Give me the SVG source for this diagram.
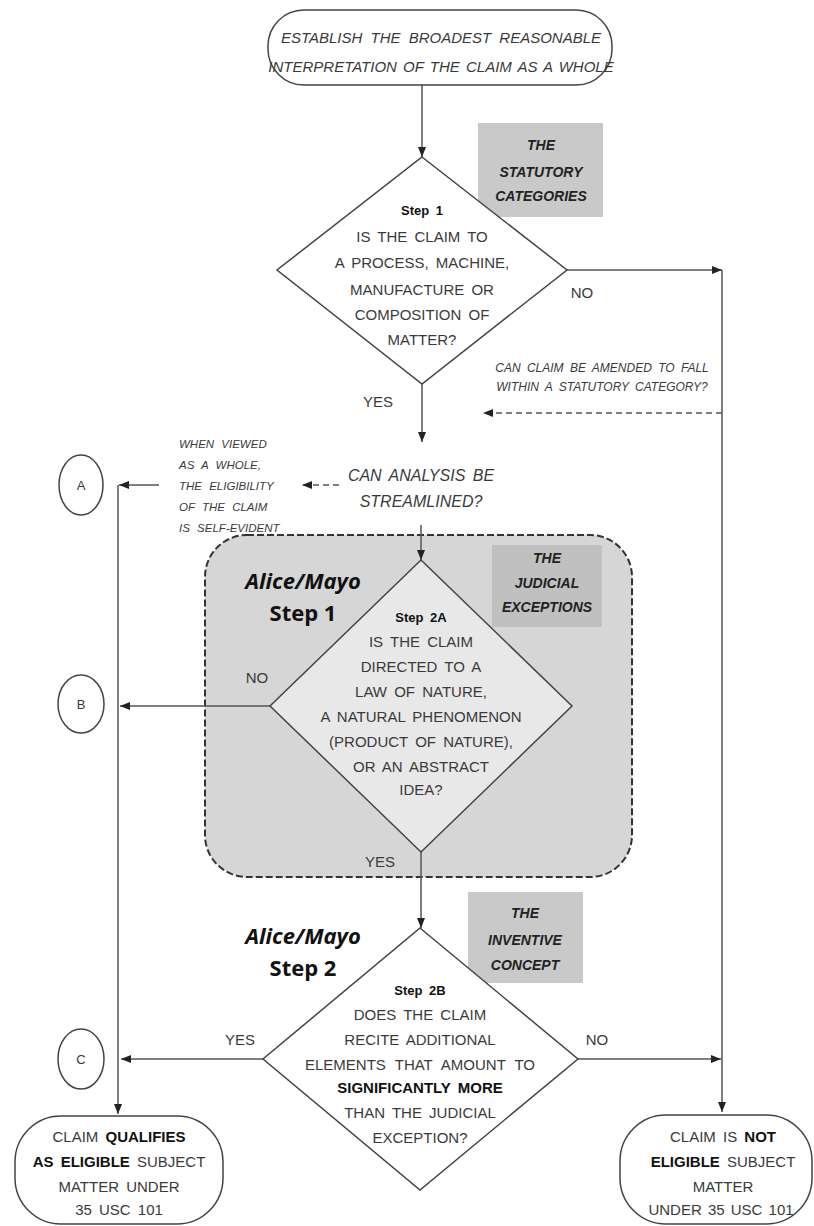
<svg xmlns="http://www.w3.org/2000/svg" width="814" height="1226" viewBox="0 0 814 1226">
<defs>
<style>
.t{font-family:"Liberation Sans",Arial,sans-serif;font-size:15px;fill:#3a3a3a;text-anchor:middle;word-spacing:3px}
.it{font-style:italic}
.sm{font-size:12px}
.xs{font-size:11.5px;text-anchor:start;word-spacing:4px}
.b{font-weight:bold;fill:#111}
.lab{font-family:"Liberation Sans",Arial,sans-serif;font-size:14px;font-weight:bold;font-style:italic;fill:#222;text-anchor:middle}
.am{font-family:"Open Sans","DejaVu Sans",sans-serif;font-size:22px;font-weight:bold;fill:#111;text-anchor:middle}
.shape{fill:#fff;stroke:#444;stroke-width:1.5}
.ln{fill:none;stroke:#555;stroke-width:1.5}
.dl{fill:none;stroke:#555;stroke-width:1.5;stroke-dasharray:6 4}
.gbox{fill:#c9c9c9;stroke:none}
</style>
<marker id="ah" viewBox="0 0 10 8" refX="10" refY="4" markerWidth="11" markerHeight="8" markerUnits="userSpaceOnUse" orient="auto">
<path d="M0,0 L10,4 L0,8 Z" fill="#222"/>
</marker>
</defs>
<rect width="814" height="1226" fill="#fff"/>

<g id="judicial-region">
<rect x="205" y="535" width="427" height="342" rx="42" ry="42" fill="#d6d6d6" stroke="#333" stroke-width="2" stroke-dasharray="7 3"/>
</g>

<g id="connectors">
<path class="ln" d="M422,85 V157" marker-end="url(#ah)"/>
<path class="ln" d="M567,270 H722" marker-end="url(#ah)"/>
<path class="ln" d="M722,270 V1112" marker-end="url(#ah)"/>
<path class="dl" d="M722,413 H483" marker-end="url(#ah)"/>
<path class="ln" d="M422,384 V442" marker-end="url(#ah)"/>
<path class="dl" d="M339,485 H302" marker-end="url(#ah)"/>
<path class="ln" d="M159,485 H119" marker-end="url(#ah)"/>
<path class="ln" d="M118,485 V1114" marker-end="url(#ah)"/>
<path class="ln" d="M421,525 V560" marker-end="url(#ah)"/>
<path class="ln" d="M270,706 H120" marker-end="url(#ah)"/>
<path class="ln" d="M421,852 V928" marker-end="url(#ah)"/>
<path class="ln" d="M263,1059 H121" marker-end="url(#ah)"/>
<path class="ln" d="M578,1059 H721" marker-end="url(#ah)"/>
</g>

<g id="start">
<rect class="shape" x="268" y="10" width="344" height="75" rx="36" ry="36"/>
<text class="t it" x="441" y="43" style="word-spacing:4px">ESTABLISH THE BROADEST REASONABLE</text>
<text class="t it" x="441" y="72" style="word-spacing:2px">INTERPRETATION OF THE CLAIM AS A WHOLE</text>
</g>

<g id="statutory-label">
<rect class="gbox" x="478" y="123" width="125" height="94"/>
<text class="lab" x="541" y="150">THE</text>
<text class="lab" x="541" y="177">STATUTORY</text>
<text class="lab" x="541" y="201">CATEGORIES</text>
</g>

<g id="step1">
<polygon class="shape" points="422,157 567,270 422,384 277,270"/>
<text class="t b" x="422" y="215" style="font-size:13px">Step 1</text>
<text class="t" x="422" y="242">IS THE CLAIM TO</text>
<text class="t" x="422" y="268">A PROCESS, MACHINE,</text>
<text class="t" x="422" y="295">MANUFACTURE OR</text>
<text class="t" x="422" y="320">COMPOSITION OF</text>
<text class="t" x="422" y="345">MATTER?</text>
</g>

<g id="labels-step1">
<text class="t" x="582" y="298">NO</text>
<text class="t" x="378" y="407">YES</text>
<text class="t it sm" x="602" y="372">CAN CLAIM BE AMENDED TO FALL</text>
<text class="t it sm" x="602" y="391">WITHIN A STATUTORY CATEGORY?</text>
</g>

<g id="streamline">
<text class="t it" x="421" y="481" style="font-size:16px">CAN ANALYSIS BE</text>
<text class="t it" x="421" y="507" style="font-size:16px">STREAMLINED?</text>
</g>

<g id="self-evident">
<text class="t it xs" x="179" y="448">WHEN VIEWED</text>
<text class="t it xs" x="179" y="469">AS A WHOLE,</text>
<text class="t it xs" x="179" y="490">THE ELIGIBILITY</text>
<text class="t it xs" x="179" y="511">OF THE CLAIM</text>
<text class="t it xs" x="179" y="532">IS SELF-EVIDENT</text>
</g>

<g id="connector-A">
<ellipse class="shape" cx="81" cy="485" rx="22" ry="30"/>
<text class="t" x="81" y="490" style="font-size:13px">A</text>
</g>

<g id="judicial-label">
<rect x="492" y="545" width="110" height="82" fill="#c0c0c0"/>
<text class="lab" x="547" y="563">THE</text>
<text class="lab" x="547" y="588">JUDICIAL</text>
<text class="lab" x="547" y="612">EXCEPTIONS</text>
</g>

<g id="alice-step1">
<text class="am" x="303" y="589" font-style="italic">Alice/Mayo</text>
<text class="am" x="303" y="621">Step 1</text>
</g>

<g id="step2a">
<polygon points="421,560 572,706 421,852 270,706" fill="#e8e8e8" stroke="#444" stroke-width="1.5"/>
<text class="t b" x="421" y="622" style="font-size:13px">Step 2A</text>
<text class="t" x="421" y="647">IS THE CLAIM</text>
<text class="t" x="421" y="672">DIRECTED TO A</text>
<text class="t" x="421" y="697">LAW OF NATURE,</text>
<text class="t" x="421" y="722">A NATURAL PHENOMENON</text>
<text class="t" x="421" y="747">(PRODUCT OF NATURE),</text>
<text class="t" x="421" y="772">OR AN ABSTRACT</text>
<text class="t" x="421" y="795">IDEA?</text>
</g>

<g id="labels-step2a">
<text class="t" x="257" y="683">NO</text>
<text class="t" x="380" y="867">YES</text>
</g>

<g id="connector-B">
<ellipse class="shape" cx="81" cy="704" rx="23" ry="29"/>
<text class="t" x="81" y="709" style="font-size:13px">B</text>
</g>

<g id="inventive-label">
<rect class="gbox" x="468" y="892" width="115" height="91"/>
<text class="lab" x="525" y="918">THE</text>
<text class="lab" x="525" y="945">INVENTIVE</text>
<text class="lab" x="525" y="970">CONCEPT</text>
</g>

<g id="alice-step2">
<text class="am" x="303" y="944" font-style="italic">Alice/Mayo</text>
<text class="am" x="303" y="976">Step 2</text>
</g>

<g id="step2b">
<polygon class="shape" points="420,928 578,1059 420,1190 263,1059"/>
<text class="t b" x="420" y="995" style="font-size:13px">Step 2B</text>
<text class="t" x="420" y="1020">DOES THE CLAIM</text>
<text class="t" x="420" y="1045">RECITE ADDITIONAL</text>
<text class="t" x="420" y="1070" style="word-spacing:5px">ELEMENTS THAT AMOUNT TO</text>
<text class="t b" x="420" y="1093">SIGNIFICANTLY MORE</text>
<text class="t" x="420" y="1118">THAN THE JUDICIAL</text>
<text class="t" x="420" y="1143">EXCEPTION?</text>
</g>

<g id="labels-step2b">
<text class="t" x="240" y="1045">YES</text>
<text class="t" x="597" y="1045">NO</text>
</g>

<g id="connector-C">
<ellipse class="shape" cx="81" cy="1059" rx="23" ry="30"/>
<text class="t" x="81" y="1064" style="font-size:13px">C</text>
</g>

<g id="eligible">
<rect class="shape" x="15" y="1116" width="208" height="108" rx="46" ry="46"/>
<text class="t" x="119" y="1142">CLAIM <tspan class="b">QUALIFIES</tspan></text>
<text class="t" x="119" y="1167"><tspan class="b">AS ELIGIBLE</tspan> SUBJECT</text>
<text class="t" x="119" y="1192">MATTER UNDER</text>
<text class="t" x="119" y="1215">35 USC 101</text>
</g>

<g id="not-eligible">
<rect class="shape" x="620" y="1115" width="192" height="109" rx="46" ry="46"/>
<text class="t" x="723" y="1142">CLAIM IS <tspan class="b">NOT</tspan></text>
<text class="t" x="723" y="1167"><tspan class="b">ELIGIBLE</tspan> SUBJECT</text>
<text class="t" x="723" y="1192">MATTER</text>
<text class="t" x="721" y="1215" style="word-spacing:2px">UNDER 35 USC 101</text>
</g>
</svg>
